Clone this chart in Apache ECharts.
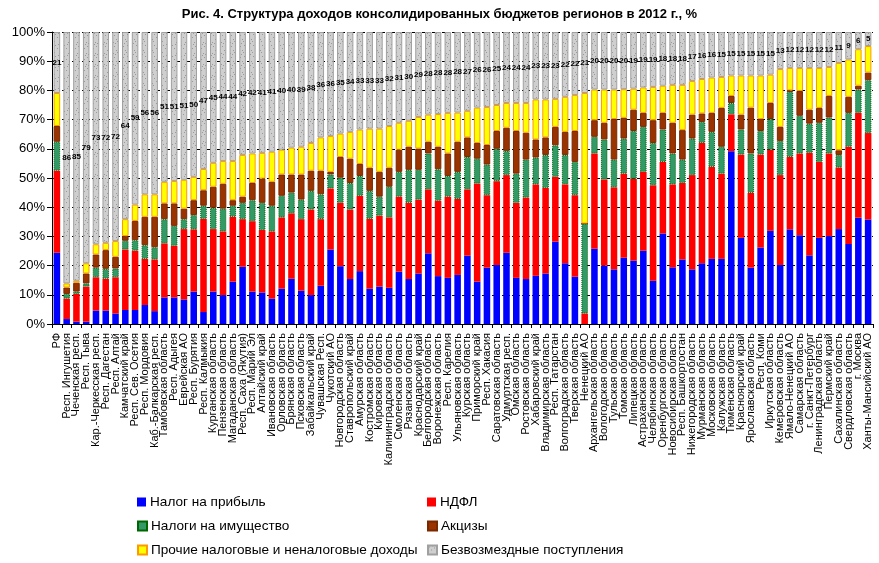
<!DOCTYPE html>
<html lang="ru">
<head>
<meta charset="UTF-8">
<title>Структура доходов консолидированных бюджетов регионов в 2012 г.</title>
<script src="https://cdn.jsdelivr.net/npm/echarts@6/dist/echarts.min.js"></script>
<style>
  html, body { margin: 0; padding: 0; background: #fff; }
  #chart { width: 879px; height: 563px; }
</style>
</head>
<body>
<div id="chart"></div>
<script>
// регионы (по убыванию доли безвозмездных поступлений)
const regions = ['РФ','Респ. Ингушетия','Чеченская респ.','Респ. Тыва','Кар.-Черкесская респ.','Респ. Дагестан','Респ. Алтай',
  'Камчатский край','Респ. Сев. Осетия','Респ. Мордовия','Каб.-Балкарская респ.','Тамбовская область','Респ. Адыгея',
  'Еврейская АО','Респ. Бурятия','Респ. Калмыкия','Курганская область','Пензенская область','Магаданская область',
  'Респ. Саха (Якутия)','Респ. Марий Эл','Алтайский край','Ивановская область','Орловская область','Брянская область',
  'Псковская область','Забайкальский край','Чувашская Респ.','Чукотский АО','Новгородская область','Ставропольский край',
  'Амурская область','Костромская область','Кировская область','Калининградская область','Смоленская область',
  'Рязанская область','Краснодарский край','Белгородская область','Воронежская область','Респ. Карелия',
  'Ульяновская область','Курская область','Приморский край','Респ. Хакасия','Саратовская область','Удмуртская респ.',
  'Омская область','Ростовская область','Хабаровский край','Владимирская область','Респ. Татарстан',
  'Волгоградская область','Тверская область','Ненецкий АО','Архангельская область','Вологодская область',
  'Тульская область','Томская область','Липецкая область','Астраханская область','Челябинская область',
  'Оренбургская область','Новосибирская область','Респ. Башкортостан','Нижегородская область','Мурманская область',
  'Московская область','Калужская область','Тюменская область','Красноярский край','Ярославская область','Респ. Коми',
  'Иркутская область','Кемеровская область','Ямало-Ненецкий АО','Самарская область','г. Санкт-Петербург',
  'Ленинградская область','Пермский край','Сахалинская область','Свердловская область','г. Москва','Ханты-Мансийский АО'];

// доли, %
const profitTax = [24.4,1.7,0.8,0.8,4.6,4.6,3.6,4.8,4.8,6.5,4.4,9.1,9.1,8.4,11.1,4.1,11.1,9.9,14.5,19.6,11.1,10.8,8.7,12.1,15.5,
  11.4,9.9,13.1,25.5,19.8,15.4,18.1,12.1,12.8,12.4,17.9,15.4,17.3,24.2,16.4,15.8,16.8,23.4,14.5,19.3,20.2,24.4,15.8,15.4,
  16.5,17.3,28.2,20.8,16.2,0,25.8,20.0,18.7,22.7,21.7,25.1,14.8,31.0,19.4,22.1,18.7,20.8,22.3,22.3,59.2,29.5,19.3,26.2,
  31.9,20.2,32.4,30.4,23.5,29.5,30.1,32.5,27.4,36.4,35.8];
const incomeTax = [28.1,7.0,9.5,12.0,11.4,10.9,12.4,20.7,20.3,15.8,17.7,18.5,17.7,24.1,21.3,31.9,21.4,21.8,22.2,16.3,24.1,21.4,
  23.0,24.4,22.4,24.5,29.3,22.8,20.9,21.7,23.8,25.8,23.9,24.3,24.1,25.7,26.1,25.3,21.9,25.8,27.8,26.0,22.7,33.6,24.8,28.7,
  26.6,25.7,27.9,31.3,29.3,22.2,27.0,27.9,3.6,32.6,29.5,28.1,28.8,28.0,27.0,32.7,24.5,28.4,26.2,32.3,41.2,31.5,29.2,12.6,
  28.5,25.6,31.8,27.8,30.8,24.8,28.0,35.1,26.0,28.3,21.1,33.3,35.9,29.6];
const propertyTax = [9.9,1.6,0.8,1.1,3.3,3.4,3.0,3.0,3.6,4.7,4.2,8.3,6.8,3.4,4.9,4.5,7.3,7.8,3.8,5.6,7.2,9.3,8.8,7.4,7.1,6.7,
  6.4,8.5,4.8,8.6,9.1,6.8,9.6,6.5,10.5,8.5,11.3,10.2,12.3,10.8,7.1,9.3,11.1,8.5,10.5,11.1,8.3,10.0,13.0,9.2,11.3,10.8,10.1,
  11.4,30.8,5.7,13.7,9.5,12.0,16.4,15.4,14.5,11.1,10.6,8.0,12.5,7.2,12.0,9.2,3.9,8.6,13.5,8.1,10.5,11.7,22.3,12.9,10.0,
  13.4,12.3,4.3,11.6,8.0,18.1];
const excises = [5.4,2.2,3.0,3.4,4.5,6.4,4.0,1.6,6.6,9.7,10.4,5.4,7.7,3.6,5.1,5.3,7.2,8.5,1.9,2.1,5.9,8.3,8.2,7.3,6.2,8.6,6.9,
  8.1,0.9,7.1,8.3,4.1,7.9,8.5,6.5,7.6,7.9,7.3,4.0,7.7,7.7,10.3,6.7,5.4,6.7,6.1,7.9,14.6,9.2,6.2,6.0,6.3,7.9,10.6,0,5.7,5.7,
  13.9,7.1,7.3,4.8,7.8,5.7,10.5,10.1,8.2,2.9,6.5,13.3,2.4,5.1,15.7,4.1,5.5,4.8,0.5,8.5,4.8,5.1,7.4,1.6,5.5,1.3,2.6];
const otherIncome = [11.3,1.4,0.7,3.5,3.5,2.5,5.4,5.8,5.6,7.7,7.7,7.4,7.7,9.9,8.0,7.3,8.2,7.8,13.4,14.3,10.1,8.8,10.3,8.5,9.2,
  9.5,9.5,11.4,12.3,8.0,9.2,11.8,13.4,14.8,14.3,9.2,8.9,10.8,9.3,11.2,13.9,10.0,9.1,12.1,13.0,8.9,8.5,9.6,10.2,13.7,13.0,
  9.6,12.0,12.3,44.7,10.5,11.4,10.1,9.8,7.2,8.7,11.4,9.3,13.0,15.5,11.5,11.8,12.1,10.6,7.0,13.4,11.0,14.9,9.7,19.8,7.7,7.9,
  14.3,13.7,9.9,29.9,12.8,12.5,9.1];
const grants = [20.9,86.1,85.2,79.2,72.7,72.2,71.6,64.1,59.1,55.6,55.6,51.3,51.0,50.6,49.6,46.9,44.8,44.2,44.2,42.1,41.6,41.4,
  41.0,40.3,39.6,39.3,38.0,36.1,35.6,34.8,34.2,33.4,33.1,33.1,32.2,31.1,30.4,29.1,28.3,28.1,27.7,27.6,27.0,25.9,25.7,25.0,
  24.3,24.3,24.3,23.1,23.1,22.9,22.2,21.6,20.9,19.7,19.7,19.7,19.6,19.4,19.0,18.8,18.4,18.1,18.1,16.8,16.1,15.6,15.4,14.9,
  14.9,14.9,14.9,14.6,12.7,12.3,12.3,12.3,12.3,12.0,10.6,9.4,5.9,4.8];
const yTicks = [0, 10, 100];

const FONT = 'Arial, "Liberation Sans", sans-serif';

// точечная заливка для безвозмездных поступлений
const dots = document.createElement('canvas');
dots.width = 9; dots.height = 11;
const dctx = dots.getContext('2d');
dctx.fillStyle = '#cfcfcf';
dctx.fillRect(0, 0, 9, 11);
dctx.fillStyle = '#9a9a9a';
[[1, 1], [6, 2], [3, 4], [8, 6], [0, 8], [5, 9], [4, 0], [7, 10]].forEach(function (p) {
  dctx.fillRect(p[0], p[1], 1, 1);
});

function bar(name, data, color, border, extra) {
  return Object.assign({
    name: name,
    type: 'bar',
    stack: 'total',
    data: data,
    barCategoryGap: '33%',
    itemStyle: { color: color, borderColor: border, borderWidth: border ? 1 : 0 }
  }, extra || {});
}

const legendPos = [
  ['Налог на прибыль', 137, 495],
  ['НДФЛ', 427, 495],
  ['Налоги на имущество', 137, 519],
  ['Акцизы', 427, 519],
  ['Прочие налоговые и неналоговые доходы', 137, 543],
  ['Безвозмездные поступления', 427, 543]
];

const chart = echarts.init(document.getElementById('chart'), null, { renderer: 'canvas' });
chart.setOption({
  animation: false,
  backgroundColor: '#fff',
  title: {
    text: 'Рис. 4. Структура доходов консолидированных бюджетов регионов в 2012 г., %',
    left: 'center',
    top: 3,
    textStyle: { fontFamily: FONT, fontSize: 13, fontWeight: 'bold', color: '#000' }
  },
  legend: legendPos.map(function (l) {
    return {
      data: [{ name: l[0], icon: 'rect' }],
      left: l[1],
      top: l[2],
      padding: 0,
      itemWidth: 9,
      itemHeight: 9,
      itemGap: 0,
      selectedMode: false,
      textStyle: { fontFamily: FONT, fontSize: 13.6, color: '#000', padding: [0, 0, 0, -1] }
    };
  }),
  grid: { left: 52, right: 6, top: 32, bottom: 239 },
  xAxis: {
    type: 'category',
    data: regions,
    axisLine: { lineStyle: { color: '#000', width: 1 } },
    axisTick: { show: true, length: 4, lineStyle: { color: '#000' } },
    axisLabel: { interval: 0, rotate: 90, margin: 9, fontFamily: FONT, fontSize: 11, color: '#000' }
  },
  yAxis: {
    type: 'value',
    min: yTicks[0],
    max: yTicks[2],
    interval: yTicks[1],
    axisLine: { show: true, lineStyle: { color: '#000' } },
    axisTick: { show: true, length: 5, lineStyle: { color: '#000' } },
    axisLabel: { formatter: '{value}%', margin: 7, fontFamily: FONT, fontSize: 13, color: '#000' },
    splitLine: { lineStyle: { color: '#000', type: [3, 2], width: 1 } }
  },
  series: [
    bar('Налог на прибыль', profitTax, '#0000ff'),
    bar('НДФЛ', incomeTax, '#ff0000'),
    bar('Налоги на имущество', propertyTax, '#339966', '#006600', { itemStyle: { color: '#339966', borderColor: '#006600', borderWidth: 1, borderType: 'dotted' } }),
    bar('Акцизы', excises, '#993300', '#7a2800'),
    bar('Прочие налоговые и неналоговые доходы', otherIncome, '#ffff00', '#ff9900'),
    bar('Безвозмездные поступления', grants, { image: dots, repetition: 'repeat' }, '#a0a0a0', {
      label: {
        show: true,
        position: 'inside',
        formatter: function (p) { return Math.round(p.value); },
        fontFamily: FONT,
        fontSize: 8,
        fontWeight: 'bold',
        color: '#000'
      }
    })
  ]
});
</script>
</body>
</html>
